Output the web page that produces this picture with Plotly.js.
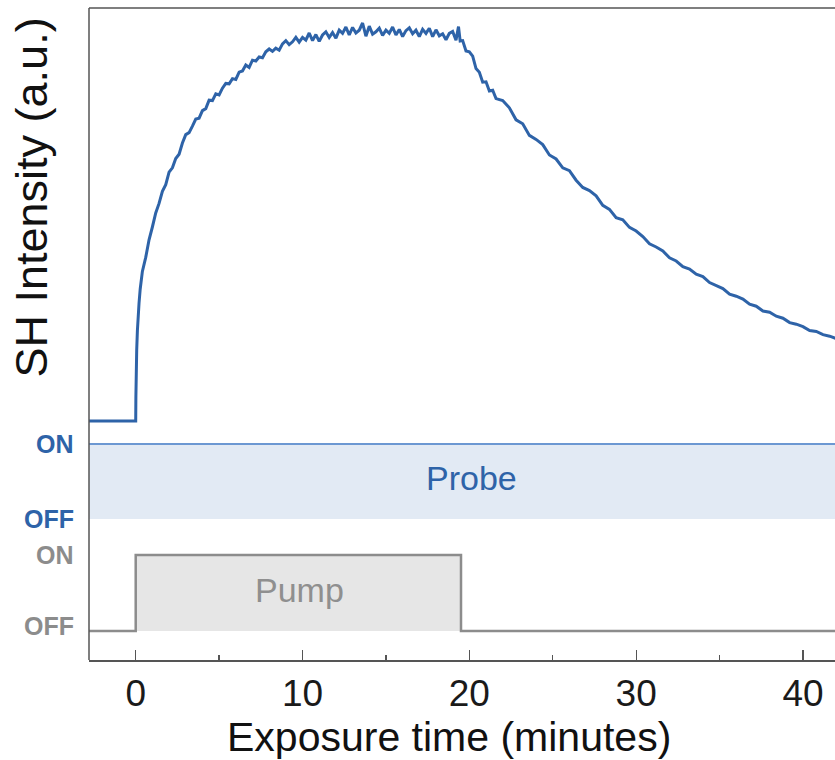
<!DOCTYPE html>
<html>
<head>
<meta charset="utf-8">
<script src="https://cdn.plot.ly/plotly-3.0.1.min.js"></script>
<style>html,body{margin:0;padding:0;background:#fff;}#chart{width:835px;height:760px;}</style>
</head>
<body>
<div id="chart"></div>
<script>
// ---- data ----
const tickVals = [0, 10, 20, 30, 40];
const tickLabels = ["0", "10", "20", "30", "40"];
const minorTickVals = [5, 15, 25, 35];

// SH intensity (a.u.) vs exposure time (minutes)
const shTime = [
  -2.8, -2.0, -1.0, 0.0, 0.01, 0.02, 0.04, 0.06, 0.1, 0.14, 0.2, 0.27, 0.34,
  0.4, 0.6, 0.8, 1.0, 1.2, 1.4, 1.6, 1.8, 2.0, 2.2, 2.4, 2.6, 2.8, 3.0, 3.2, 3.4, 3.6, 3.8,
  4.0, 4.2, 4.4, 4.6, 4.8, 5.0, 5.2, 5.4, 5.6, 5.8, 6.0, 6.2, 6.4, 6.6, 6.8, 7.0, 7.2, 7.4, 7.6, 7.8,
  8.0, 8.2, 8.4, 8.6, 8.8, 9.0, 9.2, 9.4, 9.6, 9.8, 10.0, 10.2, 10.4, 10.6, 10.8, 11.0, 11.2, 11.4, 11.6, 11.8,
  12.0, 12.2, 12.4, 12.6, 12.8, 13.0, 13.2, 13.4, 13.6, 13.8, 14.0, 14.2, 14.4, 14.6, 14.8, 15.0, 15.2, 15.4, 15.6, 15.8,
  16.0, 16.2, 16.4, 16.6, 16.8, 17.0, 17.2, 17.4, 17.6, 17.8, 18.0, 18.2, 18.4, 18.6, 18.8, 19.0, 19.2, 19.35, 19.45,
  19.6, 19.8, 20.0, 20.2, 20.4, 20.6, 20.8, 21.0, 21.2, 21.4, 21.6, 21.8, 22.0,
  22.4, 22.8, 23.2, 23.6, 24.0, 24.4, 24.8, 25.2, 25.6, 26.0, 26.4, 26.8, 27.2, 27.6, 28.0, 28.4, 28.8, 29.2, 29.6,
  30.0, 30.4, 30.8, 31.2, 31.6, 32.0, 32.4, 32.8, 33.2, 33.6, 34.0, 34.4, 34.8, 35.2, 35.6, 36.0, 36.4, 36.8,
  37.2, 37.6, 38.0, 38.4, 38.8, 39.2, 39.6, 40.0, 40.4, 40.8, 41.2, 41.6, 42.0
];
const shIntensity = [
  0, 0, 0, 0, 6.0, 10.3, 14.5, 17.8, 22.5, 26.0, 29.5, 33.0, 36.0,
  37.4, 40.9, 45.3, 48.5, 52.0, 54.4, 57.4, 59.1, 62.2, 63.3, 65.6, 66.7, 69.5, 71.6, 72.1, 73.7, 75.5, 75.7,
  77.6, 78.1, 80.2, 80.1, 81.8, 81.5, 83.2, 84.4, 84.3, 85.6, 85.4, 87.2, 87.5, 89.0, 88.4, 90.2, 90.0, 91.0, 90.8, 92.3,
  93.0, 92.4, 93.2, 92.7, 94.3, 95.1, 94.1, 94.8, 95.9, 94.7, 95.9, 95.2, 97.0, 95.1, 96.6, 94.9, 96.5, 97.3, 95.9, 97.1,
  95.7, 97.7, 96.9, 98.5, 96.5, 98.4, 97.0, 97.7, 99.5, 96.2, 98.7, 96.7, 97.3, 98.2, 96.4, 97.7, 96.9, 98.5, 96.5, 97.9,
  96.1, 97.6, 98.3, 96.8, 97.7, 96.1, 97.9, 96.9, 98.2, 96.1, 97.8, 96.3, 96.8, 95.3, 96.9, 97.4, 95.2, 98.6, 95.0,
  95.1, 92.5, 92.3, 91.2, 88.1, 87.2, 84.7, 84.8, 82.5, 82.7, 80.6, 80.4, 80.1,
  78.3, 75.3, 74.3, 71.4, 70.4, 69.1, 66.5, 65.5, 63.3, 62.6, 60.2, 58.4, 57.6, 56.3, 53.9, 52.9, 50.8, 50.3, 48.4,
  47.5, 46.1, 44.3, 43.5, 42.5, 40.8, 40.0, 38.6, 38.0, 36.7, 36.1, 34.6, 33.9, 33.1, 31.7, 31.2, 30.5, 29.2,
  28.7, 27.5, 27.2, 26.2, 25.7, 24.6, 24.2, 23.6, 22.6, 22.4, 21.6, 21.2, 20.6
];

// Probe state (1 = ON, 0 = OFF)
const probeTime = [-2.8, 42.0];
const probeState = [1, 1];

// Pump state (1 = ON, 0 = OFF)
const pumpTime = [-2.8, 0, 0, 19.5, 19.5, 42.0];
const pumpState = [0, 0, 1, 1, 0, 0];

// ---- styling ----
const FONT = "Liberation Sans, Arial, Helvetica, sans-serif";
const BLUE = "#2e63a8";
const GRAY = "#8c8c8c";
const AXIS = "#555555";

const traces = [
  {
    x: probeTime, y: probeState, xaxis: "x", yaxis: "y2",
    type: "scatter", mode: "lines", fill: "tozeroy",
    fillcolor: "#e2eaf4", line: {color: "#6c98d2", width: 2},
    hoverinfo: "skip"
  },
  {
    x: pumpTime, y: pumpState, xaxis: "x", yaxis: "y3",
    type: "scatter", mode: "lines", fill: "tozeroy",
    fillcolor: "#e6e6e6", line: {color: GRAY, width: 2.5},
    hoverinfo: "skip"
  },
  {
    x: shTime, y: shIntensity, xaxis: "x", yaxis: "y",
    type: "scatter", mode: "lines",
    line: {color: BLUE, width: 3},
    hoverinfo: "skip"
  }
];

const layout = {
  width: 835, height: 760,
  margin: {l: 89, r: 0, t: 8, b: 100, pad: 0},
  paper_bgcolor: "#ffffff", plot_bgcolor: "#ffffff",
  showlegend: false,
  font: {family: FONT, color: "#1a1a1a"},
  xaxis: {
    range: [-2.8, 41.92], anchor: "free", position: 0,
    showline: true, linecolor: AXIS, linewidth: 1.5,
    showgrid: false, zeroline: false,
    tickmode: "array", tickvals: tickVals, ticktext: tickLabels,
    ticks: "inside", ticklen: 10, tickwidth: 1.3, tickcolor: AXIS,
    minor: {ticks: "inside", ticklen: 5, tickwidth: 1.3, tickcolor: AXIS, tickvals: minorTickVals, showgrid: false},
    tickfont: {family: FONT, size: 37, color: "#1a1a1a"}
  },
  yaxis: {domain: [0.33742, 1], range: [-4.75, 103.25], visible: false, fixedrange: true},
  yaxis2: {domain: [0.18865, 0.33742], range: [-0.24, 1.0533], visible: false, fixedrange: true},
  yaxis3: {domain: [0, 0.18865], range: [-0.3816, 1.2368], visible: false, fixedrange: true},
  shapes: [
    {type: "line", xref: "paper", yref: "paper", x0: 0, x1: 0, y0: 0, y1: 1, line: {color: AXIS, width: 1.5}, layer: "above"},
    {type: "line", xref: "paper", yref: "paper", x0: 0, x1: 1, y0: 1, y1: 1, line: {color: AXIS, width: 1.5}, layer: "above"}
  ],
  annotations: [
    {xref: "paper", x: -0.0174, xanchor: "right", yref: "y2", y: 1, yanchor: "middle", text: "ON", showarrow: false,
     font: {family: FONT, size: 25, color: BLUE, weight: "bold"}},
    {xref: "paper", x: -0.0174, xanchor: "right", yref: "y2", y: 0, yanchor: "middle", text: "OFF", showarrow: false,
     font: {family: FONT, size: 25, color: BLUE, weight: "bold"}},
    {xref: "paper", x: -0.0174, xanchor: "right", yref: "y3", y: 1, yanchor: "middle", text: "ON", showarrow: false,
     font: {family: FONT, size: 25, color: GRAY, weight: "bold"}},
    {xref: "paper", x: -0.0174, xanchor: "right", yref: "y3", y: 0.066, yanchor: "middle", text: "OFF", showarrow: false,
     font: {family: FONT, size: 25, color: GRAY, weight: "bold"}},
    {xref: "x", x: 20.1, xanchor: "center", yref: "y2", y: 0.55, yanchor: "middle", text: "Probe", showarrow: false,
     font: {family: FONT, size: 34, color: BLUE}},
    {xref: "x", x: 9.82, xanchor: "center", yref: "y3", y: 0.546, yanchor: "middle", text: "Pump", showarrow: false,
     font: {family: FONT, size: 34, color: "#8f8f8f"}},
    {xref: "paper", x: 0.4832, xanchor: "center", yref: "paper", y: -0.1181, yanchor: "middle",
     text: "Exposure time (minutes)", showarrow: false, font: {family: FONT, size: 41, color: "#111111"}},
    {xref: "paper", x: -0.0777, xanchor: "center", yref: "paper", y: 0.7094, yanchor: "middle", textangle: -90,
     text: "SH Intensity (a.u.)", showarrow: false, font: {family: FONT, size: 45, color: "#111111"}}
  ]
};

Plotly.newPlot("chart", traces, layout, {displayModeBar: false, staticPlot: true});
</script>
</body>
</html>
